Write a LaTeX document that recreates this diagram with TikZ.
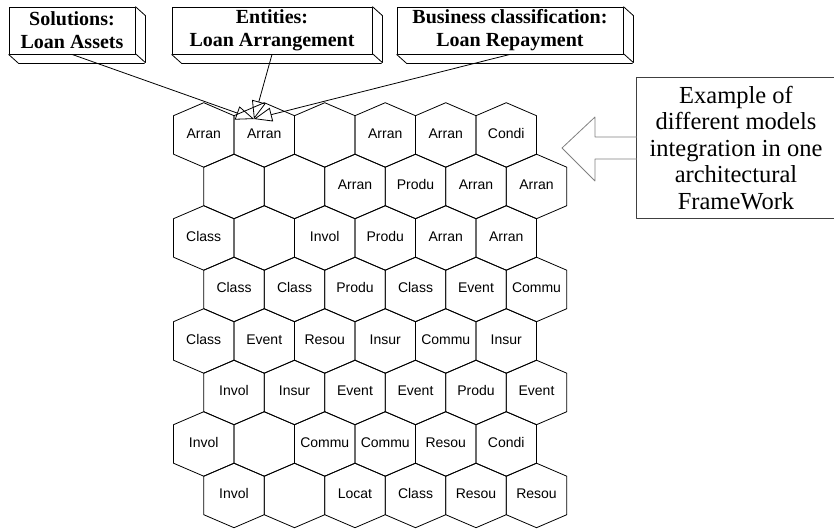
\documentclass[tikz,border=0pt]{standalone}
\usepackage{fontspec}
\setmainfont{Liberation Serif}
\setsansfont{Liberation Sans}
\usetikzlibrary{arrows.meta}

\tikzset{
	cell/.style = {font = \sffamily\fontsize{14}{15}\selectfont, inner sep = 0pt,
		text height = 10pt, text depth = 3pt},
	tag/.style = {draw, line width = 0.8pt, minimum height = 47pt, inner sep = 0pt, align = center,
		font = \bfseries\fontsize{20}{23}\selectfont},
	link/.style = {line width = 0.8pt, -{Triangle[open, length = 18pt, width = 14pt]}},
}

\begin{document}
\begin{tikzpicture} [x = 1pt, y = -1pt, line join = round]
	\clip (0, 0) rectangle (834, 528) ;

	% honeycomb: one list of cell labels per row
	\foreach \labels [count = \r from 0] in {
		{Arran, Arran, {}, Arran, Arran, Condi},
		{{}, {}, Arran, Produ, Arran, Arran},
		{Class, {}, Invol, Produ, Arran, Arran},
		{Class, Class, Produ, Class, Event, Commu},
		{Class, Event, Resou, Insur, Commu, Insur},
		{Invol, Insur, Event, Event, Produ, Event},
		{Invol, {}, Commu, Commu, Resou, Condi},
		{Invol, {}, Locat, Class, Resou, Resou}}
	{
		\pgfmathsetmacro \off {mod(\r, 2) * 30.25}
		\foreach \t [count = \c from 0] in \labels {
			\pgfmathsetmacro \cx {203.75 + 60.5 * \c + \off}
			\pgfmathsetmacro \cy {134.95 + 51.5 * \r}
			\draw [line width = 0.8pt, shift = {(\cx, \cy)}]
				(0, -32.25) -- (30.25, -19.25) -- (30.25, 19.25) -- (0, 32.25)
				-- (-30.25, 19.25) -- (-30.25, -19.25) -- cycle ;
			\node [cell] (h-\r-\c) at (\cx, \cy) {\t} ;
		}
	}

	% the three model boxes, drawn as raised blocks
	\node [tag, minimum width = 126pt] (sol) at (72, 30.5) {Solutions:\\Loan Assets} ;
	\node [tag, minimum width = 200pt] (ent) at (272, 30.5) {Entities:\\Loan Arrangement} ;
	\node [tag, minimum width = 226pt] (bus) at (510, 30.5) {Business classification:\\Loan Repayment} ;
	\foreach \b/\w in {sol/126, ent/200, bus/226} {
		\draw [line width = 0.8pt] (\b.north east) -- ++(10, 9) -- ++(0, 47) -- ++(-10, -9) ;
		\draw [line width = 0.8pt] (\b.south west) -- ++(10, 9) -- ++(\w, 0) ;
	}

	\coordinate (tgt) at (254, 119) ;
	\draw [link] (sol.south) -- (tgt) ;
	\draw [link] (ent.south) -- (tgt) ;
	\draw [link] (bus.south) -- (tgt) ;

	% note on the right with its hollow arrow (frame runs off the right edge)
	\node [minimum width = 198pt, minimum height = 140pt,
		align = center, font = \fontsize{24.5}{26.5}\selectfont] (note) at (736, 148)
		{Example of\\different models\\integration in one\\architectural\\FrameWork} ;
	\draw [black!75, line width = 0.8pt] (note.north west) rectangle ([xshift = 20pt] note.south east) ;
	\draw [black!50, line width = 0.8pt] (note.west |- 0, 137) -- (595, 137) -- (595, 117) -- (562, 148)
		-- (595, 181) -- (595, 159) -- (note.west |- 0, 159) ;

\end{tikzpicture}
\end{document}
